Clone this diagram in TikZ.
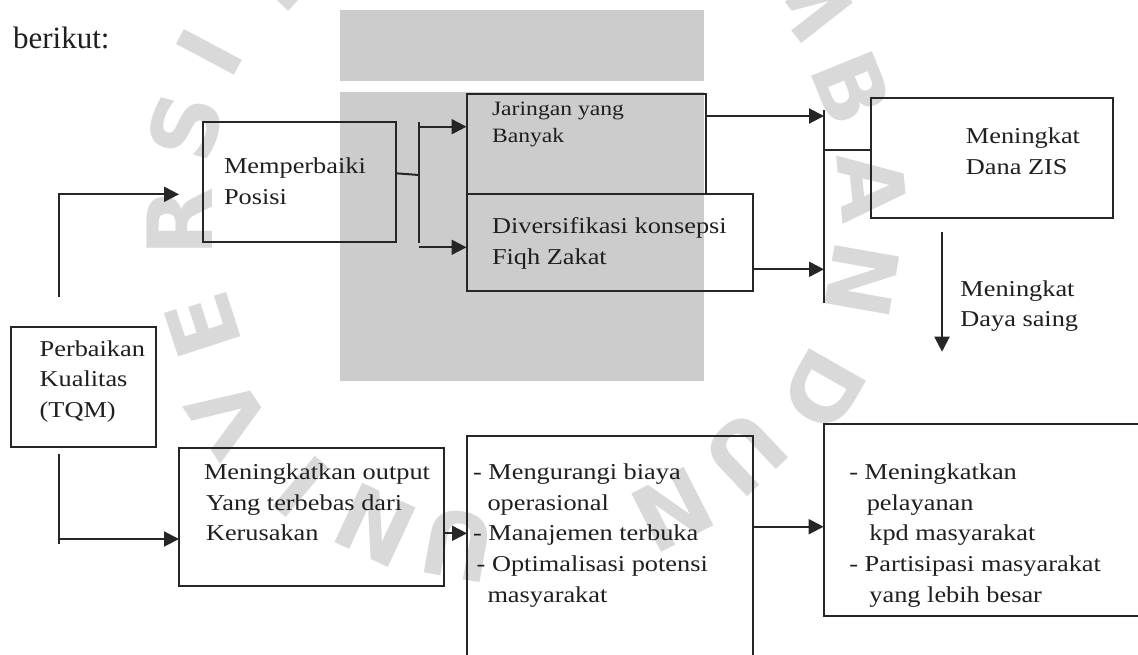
\documentclass[tikz,border=0pt]{standalone}
\usepackage{fontspec}
\setmainfont{Liberation Serif}
\newfontfamily\dgm[FakeStretch=1.16]{Liberation Serif}
\newfontfamily\wmf{DejaVu Sans}
\usetikzlibrary{arrows.meta,fit}
\newcommand{\lns}[1]{\begin{tabular}[t]{@{}l@{}}#1\end{tabular}}
\begin{document}
\begin{tikzpicture}[x=0.5pt,y=-0.5pt,
  box/.style={draw=black!85, line width=1pt, inner sep=0pt, outer sep=0pt},
  con/.style={draw=black!85, line width=1pt},
  arr/.style={con, -{Triangle[length=7.5pt,width=7.5pt]}},
  txt/.style={anchor=base west, inner sep=0pt, text=black!88, font=\dgm\fontsize{11.35}{15.35}\selectfont},
  jtxt/.style={txt, font=\dgm\fontsize{10.2}{13.85}\selectfont},
  wm/.style={text=black!15, font=\wmf\bfseries\fontsize{45}{45}\selectfont, inner sep=0pt},
  shadebox/.style={fill=black!20, draw=none}]
\useasboundingbox (0,0) rectangle (1138,654);
\clip (0,0) rectangle (1138,654);
\fill[white] (0,0) rectangle (1138,654);
% watermark
\fill[shadebox] (340,10) rectangle (704,81);
\fill[shadebox] (340,92.3) rectangle (704,381);
\foreach \ch/\px/\py/\r [count=\i] in {T/270/-17/47, I/209/52/62, S/185/127/74.7, R/180/222/90, E/203/325/108, V/229/418/123.5, I/301/487/140, N/375/525/155, U/458/545/170, M/805/-5/-52, B/852/88/-68, A/872/187/-84.6, N/862/280/-100, D/823/390/-119.7, U/745/453/-136.6, N/673/510/-153}
  \node[wm, rotate=\r] (wm\i) at (\px,\py) {\ch};
% boxes
\node[box, fit={(11,327.3) (155.6,447.3)}] (tqm) {};
\node[box, fit={(203,122.3) (396,242.3)}] (mp) {};
\node[box, fit={(466.5,94) (705.5,194.3)}] (jar) {};
\node[box, fit={(466.5,194.3) (753,290.7)}] (div) {};
\node[box, fit={(871,98.3) (1113,218.3)}] (dana) {};
\node[box, fit={(179,447.7) (443.6,585.7)}] (mo) {};
\node[box, fit={(467,436) (752.7,700)}] (mg) {};
\node[box, fit={(823.6,424) (1170,615.7)}] (last) {};
% texts
\node[txt, font=\fontsize{15.5}{18}\selectfont] (ber) at (12.7,48.3) {berikut:};
\node[txt] (tP) at (39.3,356) {\lns{Perbaikan\\Kualitas\\(TQM)}};
\node[txt] (tM) at (223.6,173.3) {\lns{Memperbaiki\\Posisi}};
\node[jtxt] (tJ) at (491.6,115) {\lns{Jaringan yang\\Banyak}};
\node[txt] (tD) at (491.6,233.3) {\lns{Diversifikasi konsepsi\\Fiqh Zakat}};
\node[txt] (tZ) at (965.5,143.3) {\lns{Meningkat\\Dana ZIS}};
\node[txt] (tS) at (960,296) {\lns{Meningkat\\Daya saing}};
\node[txt] (tO) at (203.6,479.3) {\lns{Meningkatkan output\\\hspace{1pt}Yang terbebas dari\\\hspace{1pt}Kerusakan}};
\node[txt] (tG) at (472.7,479.3) {\lns{- Mengurangi biaya\\\hspace{7.2pt}operasional\\- Manajemen terbuka\\\hspace{1.8pt}- Optimalisasi potensi\\\hspace{7.2pt}masyarakat}};
\node[txt] (tL) at (849,479.3) {\lns{- Meningkatkan\\\hspace{8.7pt}pelayanan\\\hspace{10pt}kpd masyarakat\\- Partisipasi masyarakat\\\hspace{10pt}yang lebih besar}};
% connectors
\coordinate (tu) at (59,296.7);
\coordinate (mpin) at (179,194.3);
\draw[arr] (tu) |- (mpin);
\coordinate (td) at (59,454.3);
\coordinate (tdb) at (59,544.3);
\draw[con] (td) -- (tdb);
\coordinate (tdc) at (59,539);
\draw[arr] (tdc) -- (tdc -| mo.west);
\coordinate (bj) at (419,175);
\coordinate (mpo) at (396,173.3);
\draw[con] (mpo) -- (bj);
\coordinate (bt) at (419,122.3);
\coordinate (bb) at (419,242.7);
\draw[con] (bt) -- (bb);
\coordinate (b1) at (419,126.7);
\coordinate (b2) at (419,247.3);
\draw[arr] (b1) -- (b1 -| jar.west);
\draw[arr] (b2) -- (b2 -| div.west);
\coordinate (vt) at (824,110);
\coordinate (vb) at (824,303.3);
\draw[con] (vt) -- (vb);
\coordinate (j1) at (705.5,116);
\coordinate (d1) at (753,269.3);
\draw[arr] (j1) -- (j1 -| vt);
\draw[arr] (d1) -- (d1 -| vt);
\coordinate (vm) at (824,150);
\draw[con] (vm) -- (vm -| dana.west);
\coordinate (da1) at (942,231.7);
\coordinate (da2) at (942,351.7);
\draw[arr] (da1) -- (da2);
\coordinate (m1) at (443.6,533.3);
\draw[arr] (m1) -- (m1 -| mg.west);
\coordinate (g1) at (752.7,526.7);
\draw[arr] (g1) -- (g1 -| last.west);
\end{tikzpicture}
\end{document}
